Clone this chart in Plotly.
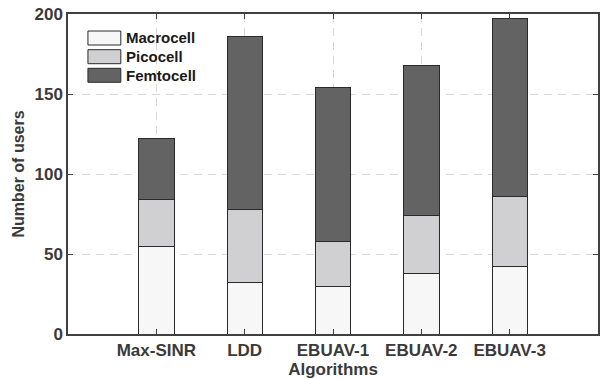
import plotly.graph_objects as go

# Users associated with each tier, per association algorithm
algorithms = ["Max-SINR", "LDD", "EBUAV-1", "EBUAV-2", "EBUAV-3"]
macrocell = [55, 32, 30, 38, 42]
picocell = [29, 46, 28, 36, 44]
femtocell = [38, 108, 96, 94, 111]

tiers = ["Macrocell", "Picocell", "Femtocell"]
tier_values = [macrocell, picocell, femtocell]
tier_colors = ["#f7f7f7", "#d0d0d2", "#636363"]

W, H = 602, 379
L, R, T, B = 68, 2, 14, 45

x_pos = list(range(1, len(algorithms) + 1))

fig = go.Figure()
for name, vals, col in zip(tiers, tier_values, tier_colors):
    fig.add_trace(go.Bar(
        x=x_pos, y=vals, name=name, width=0.4,
        marker=dict(color=col, line=dict(color="#2a2a2a", width=1)),
        showlegend=False,
    ))

# legend drawn as wide swatches in the upper-left corner
pw, ph = W - L - R, H - T - B
def px_x(p):
    return (p - L) / pw
def px_y(p):
    return (H - B - p) / ph

shapes = []
annotations = []
# white backing behind the legend
shapes.append(dict(type="rect", xref="paper", yref="paper",
                   x0=px_x(84), x1=px_x(198), y0=px_y(86), y1=px_y(27),
                   fillcolor="white", line=dict(width=0), layer="below"))
row_top = [31, 49.7, 68.3]
for name, col, top in zip(tiers, tier_colors, row_top):
    shapes.append(dict(type="rect", xref="paper", yref="paper",
                       x0=px_x(88), x1=px_x(121), y0=px_y(top + 14), y1=px_y(top),
                       fillcolor=col, line=dict(color="#2a2a2a", width=1)))
    annotations.append(dict(xref="paper", yref="paper", x=px_x(124), y=px_y(top + 7),
                            text=name, showarrow=False, xanchor="left", yanchor="middle",
                            font=dict(family="Liberation Sans, Arial", size=15, color="#1a1a1a",
                                      weight="bold")))

axis_font = dict(family="Liberation Sans, Arial", size=17, color="#3a3a3a", weight="bold")
grid_dash = "8px,6px"

fig.update_layout(
    width=W, height=H,
    margin=dict(l=L, r=R, t=T, b=B),
    paper_bgcolor="white", plot_bgcolor="white",
    barmode="stack",
    shapes=shapes, annotations=annotations,
    font=axis_font,
    xaxis=dict(
        range=[0, 6], tickvals=x_pos, ticktext=algorithms,
        showgrid=True, gridcolor="#d8d8d8", griddash=grid_dash, gridwidth=1,
        showline=True, linecolor="#404040", linewidth=1.5, mirror="ticks",
        ticks="inside", ticklen=5, tickcolor="#404040",
        tickfont=axis_font, zeroline=False,
        title=dict(text="Algorithms", font=axis_font, standoff=4),
    ),
    yaxis=dict(
        range=[0, 200], tickvals=[0, 50, 100, 150, 200],
        showgrid=True, gridcolor="#d8d8d8", griddash=grid_dash, gridwidth=1,
        showline=True, linecolor="#404040", linewidth=1.5, mirror="ticks",
        ticks="inside", ticklen=5, tickcolor="#404040",
        tickfont=axis_font, zeroline=False,
        title=dict(text="Number of users", font=dict(axis_font, size=16), standoff=6),
    ),
)

fig.write_html("out.html")
